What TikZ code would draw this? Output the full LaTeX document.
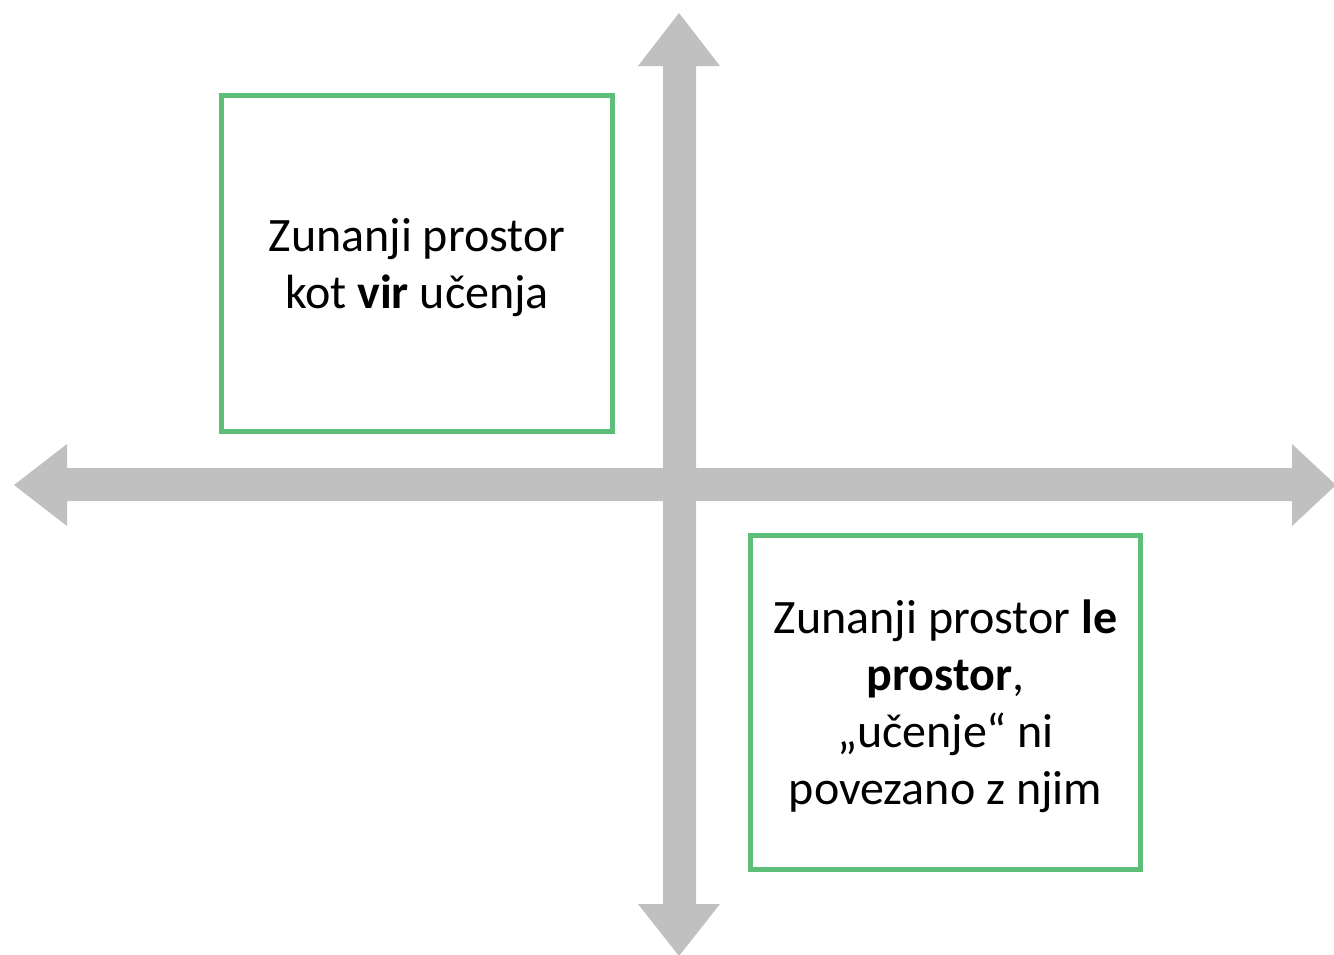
\documentclass[tikz,border=0pt]{standalone}
\usepackage{fontspec}
\setmainfont{Carlito}
\usepackage{xcolor}
\definecolor{axisgray}{RGB}{192,192,192}
\definecolor{boxgreen}{RGB}{92,190,120}
\newcommand{\toplift}{\rule{0pt}{21pt}}

\begin{document}
\begin{tikzpicture}[x=0.5pt,y=-0.5pt,
		axis/.style={fill=axisgray},
		quadbox/.style={draw=boxgreen, line width=2.5pt, minimum width=195.5pt, minimum height=168pt,
			align=center, inner sep=0pt, font=\fontsize{24}{28.6}\selectfont}]
		\useasboundingbox (0,0) rectangle (1334,954);
		
		%vertical axis
		\fill[axis] (663,66) -- (638,66) -- (679,13) -- (720,66) -- (696,66)
			-- (696,904) -- (720,904) -- (679,956) -- (638,904) -- (663,904) -- cycle;
		%horizontal axis
		\fill[axis] (67,468) -- (67,444) -- (14,485) -- (67,526) -- (67,501)
			-- (1292,501) -- (1292,526) -- (1336,485) -- (1292,444) -- (1292,468) -- cycle;
		
		%boxes
		\node[quadbox] (source) at (417,263) {\toplift Zunanji prostor\\kot \textbf{vir} učenja};
		\node[quadbox, minimum width=195pt, minimum height=167pt] (space) at (945.5,702)
			{\toplift Zunanji prostor \textbf{le}\\\textbf{prostor},\\„učenje“ ni\\povezano z njim};
	
	\end{tikzpicture}
\end{document}
